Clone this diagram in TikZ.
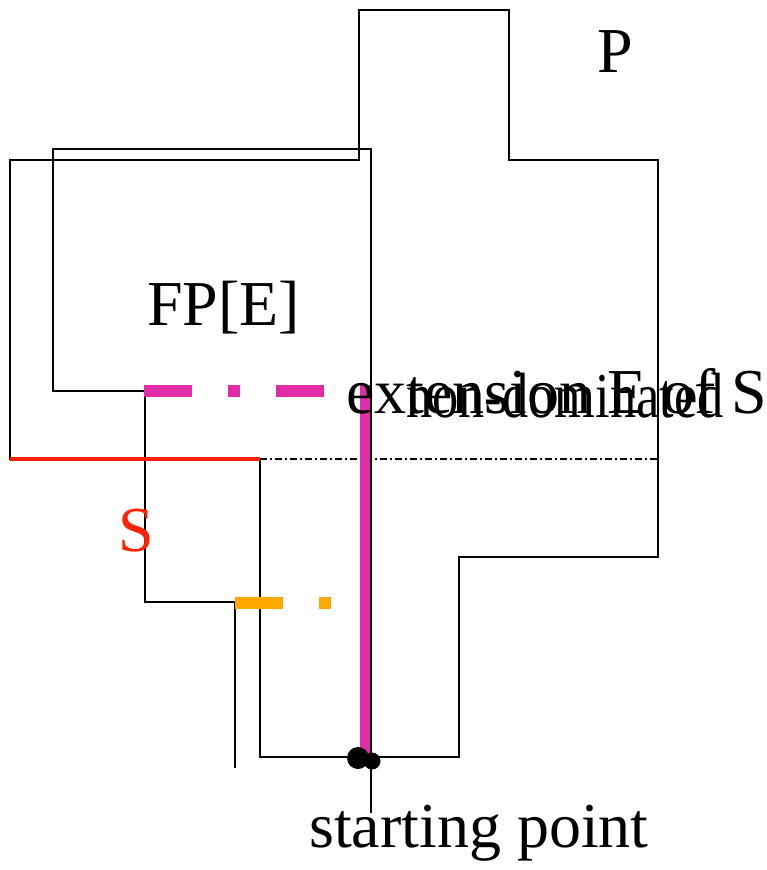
\documentclass[tikz,border=0pt]{standalone}
\usepackage{fontspec}
\setmainfont{Liberation Serif}
\usetikzlibrary{positioning}

\definecolor{extmag}{RGB}{224,44,166}
\definecolor{sorange}{RGB}{255,168,0}
\definecolor{sred}{RGB}{255,34,0}

\begin{document}
\begin{tikzpicture}[x=1pt, y=-1pt,
    lbl/.style={inner sep=0pt, anchor=base west, font=\fontsize{64}{70}\selectfont},
    outline/.style={line width=2.8pt, line join=miter},
    frame/.style={line width=2.2pt, line join=miter},
    thinline/.style={line width=1.7pt},
    extdash/.style={line width=12pt, dash pattern=on 48pt off 36pt on 12pt off 36pt},
]
\useasboundingbox (0,0) rectangle (767,870);

% Polygon P
\draw[outline] (10,460) -- (10,160) -- (359,160) -- (359,10) -- (509,10) -- (509,160)
    -- (658,160) -- (658,557) -- (459,557) -- (459,757) -- (260,757) -- (260,460);

% Frame of FP[E]
\draw[frame] (145,391) -- (53,391) -- (53,149) -- (371,149) -- (371,813);
\draw[frame] (145,391) -- (145,602) -- (235,602);
\draw[thinline] (235,602) -- (235,768);

% Boundary of S and its continuation
\draw[sred, line width=4pt] (10,459) -- (260,459);
\draw[line width=1.2pt, dash pattern=on 7pt off 3pt on 2pt off 3pt] (260,459) -- (658,459);

% Extension E of S
\draw[extmag, extdash] (144,391) -- (324,391);
\draw[sorange, extdash] (235,602.5) -- (331,602.5);
\draw[extmag, line width=10.5pt] (365,385) -- (365,757);

% Starting point
\fill (358,758) circle (11pt);
\fill (372,761) circle (8.5pt);

% Labels
\node[lbl] (p) at (597,72) {P};
\node[lbl] (fpe) at (147,325) {FP[E]};
\node[lbl] (ext) at (346,413) {extension E of S};
\node[lbl] (nondom) at (406,417) {\scalebox{0.82}[1]{non-dominated}};
\node[lbl, text=sred] (s) at (118,551) {S};
\node[lbl] (start) at (309,847) {starting point};
\end{tikzpicture}
\end{document}
